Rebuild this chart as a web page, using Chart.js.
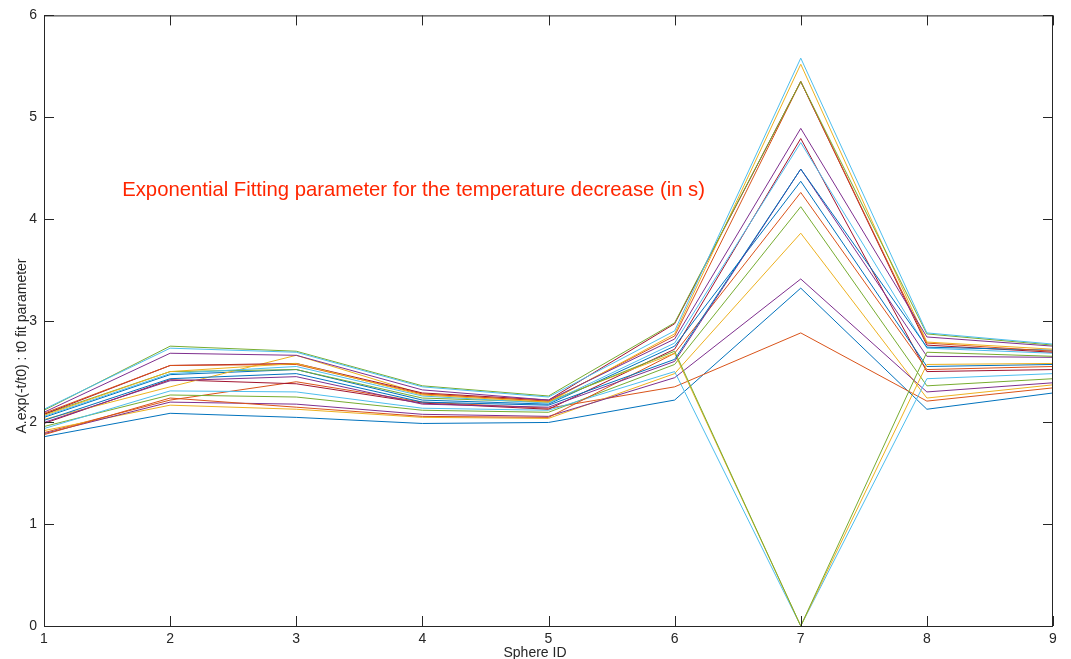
<!DOCTYPE html>
<html>
<head>
<meta charset="utf-8">
<script src="https://cdn.jsdelivr.net/npm/chart.js@4"></script>
<style>
  html, body { margin: 0; padding: 0; background: #fff; }
  #wrap { width: 1071px; height: 659px; }
</style>
</head>
<body>
<div id="wrap"><canvas id="fitChart" width="1071" height="659"></canvas></div>
<script>
// Sphere IDs on the x axis
const sphereIds = [1, 2, 3, 4, 5, 6, 7, 8, 9];
const yTicks = [0, 1, 2, 3, 4, 5, 6];

// t0 fit parameter per run (one array per curve)
const run01 = [1.86, 2.09, 2.05, 1.99, 2.00, 2.22, 3.32, 2.13, 2.29];
const run02 = [1.90, 2.22, 2.40, 2.20, 2.14, 2.35, 2.88, 2.21, 2.34];
const run03 = [1.92, 2.17, 2.13, 2.05, 2.04, 2.48, 3.86, 2.24, 2.37];
const run04 = [1.89, 2.20, 2.18, 2.08, 2.06, 2.44, 3.41, 2.30, 2.39];
const run05 = [1.96, 2.27, 2.25, 2.12, 2.10, 2.57, 4.12, 2.36, 2.43];
const run06 = [1.94, 2.31, 2.30, 2.14, 2.12, 2.50, 0.00, 2.43, 2.48];
const run07 = [1.99, 2.42, 2.38, 2.19, 2.13, 2.72, 4.79, 2.50, 2.52];
const run08 = [2.05, 2.47, 2.52, 2.22, 2.18, 2.75, 4.37, 2.55, 2.57];
const run09 = [1.88, 2.24, 2.15, 2.06, 2.05, 2.68, 4.26, 2.52, 2.55];
const run10 = [2.03, 2.35, 2.66, 2.28, 2.21, 2.68, 0.00, 2.57, 2.58];
const run11 = [2.00, 2.41, 2.45, 2.18, 2.15, 2.60, 4.49, 2.65, 2.64];
const run12 = [2.08, 2.50, 2.52, 2.24, 2.20, 2.70, 0.00, 2.69, 2.65];
const run13 = [2.06, 2.48, 2.55, 2.26, 2.19, 2.78, 4.75, 2.73, 2.68];
const run14 = [2.08, 2.56, 2.58, 2.29, 2.22, 2.97, 5.35, 2.76, 2.69];
const run15 = [2.02, 2.43, 2.48, 2.20, 2.17, 2.62, 4.49, 2.74, 2.71];
const run16 = [2.09, 2.56, 2.57, 2.28, 2.21, 2.85, 5.35, 2.78, 2.70];
const run17 = [2.07, 2.50, 2.58, 2.27, 2.20, 2.87, 5.52, 2.79, 2.72];
const run18 = [2.10, 2.68, 2.66, 2.32, 2.22, 2.82, 4.89, 2.84, 2.75];
const run19 = [2.12, 2.75, 2.70, 2.36, 2.26, 2.98, 5.35, 2.87, 2.76];
const run20 = [2.13, 2.73, 2.69, 2.35, 2.25, 2.90, 5.58, 2.88, 2.77];

const runs = [run01, run02, run03, run04, run05, run06, run07, run08, run09, run10,
              run11, run12, run13, run14, run15, run16, run17, run18, run19, run20];

// Orden de colores de MATLAB
const colorOrder = ['#0072BD', '#D95319', '#EDB120', '#7E2F8E', '#77AC30', '#4DBEEE', '#A2142F'];
const FONT = '"Liberation Sans", Arial, sans-serif';

const datasets = runs.map((vals, i) => ({
    data: vals.map((v, k) => ({ x: sphereIds[k], y: v })),
    borderColor: colorOrder[i % colorOrder.length],
    borderWidth: 1,
    pointRadius: 0,
    tension: 0,
    fill: false,
    order: runs.length - i
}));

// Caja, marcas hacia dentro y etiquetas, estilo MATLAB
const boxPlugin = {
    id: 'matlabBox',
    afterDraw(chart) {
        const { ctx, chartArea: a, scales } = chart;
        ctx.save();
        ctx.strokeStyle = '#262626';
        ctx.lineWidth = 1;
        ctx.strokeRect(a.left + 0.5, a.top + 0.5, a.right - a.left - 1, a.bottom - a.top);
        ctx.beginPath();
        sphereIds.forEach(v => {
            const px = Math.round(scales.x.getPixelForValue(v)) + 0.5;
            ctx.moveTo(px, a.bottom); ctx.lineTo(px, a.bottom - 10);
            ctx.moveTo(px, a.top); ctx.lineTo(px, a.top + 10);
        });
        yTicks.forEach(v => {
            const py = Math.round(scales.y.getPixelForValue(v)) + 0.5;
            ctx.moveTo(a.left, py); ctx.lineTo(a.left + 10, py);
            ctx.moveTo(a.right, py); ctx.lineTo(a.right - 10, py);
        });
        ctx.stroke();

        // etiquetas de los ejes
        ctx.fillStyle = '#262626';
        ctx.font = '14px ' + FONT;
        ctx.textAlign = 'center';
        ctx.textBaseline = 'middle';
        ctx.fillText('Sphere ID', 535, 653);
        ctx.save();
        ctx.translate(22, 346);
        ctx.rotate(-Math.PI / 2);
        ctx.fillText('A.exp(-t/t0) : t0 fit parameter', 0, 0);
        ctx.restore();

        // texto rojo dentro del gráfico
        ctx.fillStyle = 'rgb(255, 38, 0)';
        ctx.font = '20.3px ' + FONT;
        ctx.textAlign = 'left';
        ctx.textBaseline = 'middle';
        ctx.fillText('Exponential Fitting parameter for the temperature decrease (in s)',
            scales.x.getPixelForValue(1.62), scales.y.getPixelForValue(4.28));
        ctx.restore();
    }
};

const ctx = document.getElementById('fitChart').getContext('2d');
new Chart(ctx, {
    type: 'line',
    data: { datasets },
    plugins: [boxPlugin],
    options: {
        responsive: false,
        animation: false,
        layout: { padding: { top: 15, right: 18, left: 0, bottom: 0 } },
        plugins: {
            legend: { display: false },
            tooltip: { enabled: false }
        },
        scales: {
            x: {
                type: 'linear',
                min: 1,
                max: 9,
                afterFit: s => { s.height = 33; },
                grid: { display: false, drawTicks: false },
                border: { display: false },
                ticks: {
                    stepSize: 1,
                    padding: 5,
                    color: '#262626',
                    font: { family: FONT, size: 14 }
                }
            },
            y: {
                min: 0,
                max: 6,
                afterFit: s => { s.width = 44; },
                grid: { display: false, drawTicks: false },
                border: { display: false },
                ticks: {
                    stepSize: 1,
                    padding: 7,
                    color: '#262626',
                    font: { family: FONT, size: 14 }
                }
            }
        }
    }
});
</script>
</body>
</html>
